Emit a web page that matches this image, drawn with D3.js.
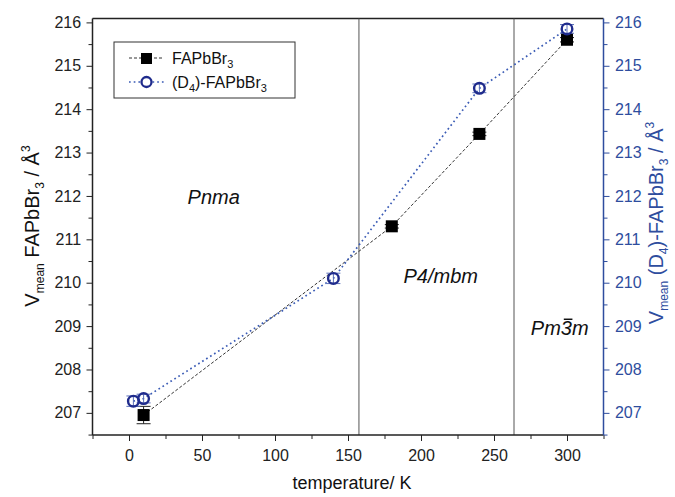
<!DOCTYPE html>
<html><head><meta charset="utf-8">
<script src="https://cdn.jsdelivr.net/npm/d3@7"></script>
<style>body{margin:0;background:#fff}svg{display:block;font-family:"Liberation Sans",Arial,sans-serif}</style>
</head><body><svg id="c" width="675" height="497"></svg>
<script>
// data
const faTemps = [10, 180, 240, 300];
const faVals  = [206.95, 211.3, 213.43, 215.6];
const faErr   = [0.2, 0.04, 0.04, 0.05];
const d4Temps = [3, 10, 140, 240, 300];
const d4Vals  = [207.27, 207.33, 210.1, 214.48, 215.85];
const d4Err   = [0.12, 0.1, 0.12, 0.1, 0.1];
const phaseBounds = [157.5, 263.7];
const phaseLabels = [{t: 58, v: 211.82, s: "Pnma"}, {t: 213.5, v: 210.0, s: "P4/mbm"}, {t: 295, v: 208.8, s: "Pm3m", bar: 2}];
const xTicks = [0, 50, 100, 150, 200, 250, 300];
const yTicks = [207, 208, 209, 210, 211, 212, 213, 214, 215, 216];

const svg = d3.select("#c");
const L = 92.5, R = 603.5, T = 18.5, B = 435;
const x = d3.scaleLinear().domain([-25, 325]).range([L, R]);
const y = d3.scaleLinear().domain([206.49, 216.09]).range([B, T]);
const blue = "#2e4d9e", navy = "#1f2b8c";

// frame top
svg.append("line").attr("x1", L).attr("x2", R).attr("y1", T).attr("y2", T).attr("stroke", "#222").attr("stroke-width", 1.5);

// phase boundaries
phaseBounds.forEach(b => svg.append("line").attr("x1", x(b)).attr("x2", x(b)).attr("y1", T).attr("y2", B).attr("stroke", "#555").attr("stroke-width", 1));

// axes
const gx = svg.append("g").attr("transform", `translate(0,${B})`)
  .call(d3.axisBottom(x).tickValues(d3.range(-25, 326, 25)).tickSize(6).tickFormat(d => xTicks.includes(d) ? d : ""));
gx.selectAll("line").filter(d => !xTicks.includes(d)).attr("y2", 4);
const gy = svg.append("g").attr("transform", `translate(${L},0)`)
  .call(d3.axisLeft(y).tickValues(d3.range(206.5, 216.01, 0.5)).tickSize(6).tickFormat(d => yTicks.includes(d) ? d : ""));
gy.selectAll(".tick line").filter(d => !yTicks.includes(d)).attr("x2", -4);
const gr = svg.append("g").attr("transform", `translate(${R},0)`)
  .call(d3.axisRight(y).tickValues(d3.range(206.5, 216.01, 0.5)).tickSize(6).tickFormat(d => yTicks.includes(d) ? d : ""));
gr.selectAll(".tick line").filter(d => !yTicks.includes(d)).attr("x2", 4);
[gx, gy, gr].forEach(g => { g.select(".domain").attr("stroke-width", 1.5); g.selectAll("text").attr("font-size", 16).attr("font-family", '"Liberation Sans",Arial,sans-serif'); });
gx.selectAll("text").attr("dy", "1.05em").attr("fill", "#222");
gy.selectAll("text").attr("fill", "#222").attr("dx", "-0.15em");
gx.selectAll("line,path").attr("stroke", "#222"); gy.selectAll("line,path").attr("stroke", "#222");
gr.selectAll("line,path").attr("stroke", blue); gr.selectAll("text").attr("fill", blue).attr("dx", "0.15em");
gx.select(".domain").attr("d", `M${L},0H${R}`);
gy.select(".domain").attr("d", `M0,${T}V${B}`);
gr.select(".domain").attr("d", `M0,${T}V${B}`);

// lines
const faData = faTemps.map((t, i) => ({t, v: faVals[i], e: faErr[i]}));
const d4Data = d4Temps.map((t, i) => ({t, v: d4Vals[i], e: d4Err[i]}));
const line = d3.line().x(d => x(d.t)).y(d => y(d.v));
svg.append("path").datum(faData).attr("d", line).attr("fill", "none").attr("stroke", "#333").attr("stroke-width", 1).attr("stroke-dasharray", "3,2");
svg.append("path").datum(d4Data).attr("d", line).attr("fill", "none").attr("stroke", "#3a5bb5").attr("stroke-width", 1.7).attr("stroke-dasharray", "1.7,3");

// error bars
function errs(data, col) {
  const g = svg.append("g").attr("stroke", col).attr("stroke-width", 1);
  data.forEach(d => {
    g.append("line").attr("x1", x(d.t)).attr("x2", x(d.t)).attr("y1", y(d.v - d.e)).attr("y2", y(d.v + d.e));
    [d.v - d.e, d.v + d.e].forEach(v => g.append("line").attr("x1", x(d.t) - 7).attr("x2", x(d.t) + 7).attr("y1", y(v)).attr("y2", y(v)));
  });
}
errs(faData, "#222");
errs(d4Data, "#5a6fb8");

// markers
svg.append("g").selectAll("rect").data(faData).join("rect")
  .attr("x", d => x(d.t) - 6).attr("y", d => y(d.v) - 6).attr("width", 12).attr("height", 12).attr("fill", "#000");
svg.append("g").selectAll("circle").data(d4Data).join("circle")
  .attr("cx", d => x(d.t)).attr("cy", d => y(d.v)).attr("r", 5.3).attr("fill", "none").attr("stroke", navy).attr("stroke-width", 2.4);

// phase labels
phaseLabels.forEach(p => {
  const t = svg.append("text").attr("x", x(p.t)).attr("y", y(p.v)).attr("text-anchor", "middle")
    .attr("font-size", 20).attr("font-style", "italic").attr("fill", "#111").text(p.s);
  if (p.bar !== undefined) {
    const e = t.node().getExtentOfChar(p.bar);
    svg.append("line").attr("x1", e.x + 3).attr("x2", e.x + e.width + 0.5)
      .attr("y1", e.y + 2.5).attr("y2", e.y + 2.5).attr("stroke", "#111").attr("stroke-width", 1.5);
  }
});

// legend
svg.append("rect").attr("x", 114).attr("y", 42).attr("width", 181).attr("height", 56).attr("fill", "#fff").attr("stroke", "#333").attr("stroke-width", 1);
svg.append("line").attr("x1", 129).attr("x2", 164).attr("y1", 58).attr("y2", 58).attr("stroke", "#333").attr("stroke-dasharray", "3,2");
svg.append("rect").attr("x", 141).attr("y", 53).attr("width", 11).attr("height", 11).attr("fill", "#000");
svg.append("line").attr("x1", 129).attr("x2", 164).attr("y1", 82).attr("y2", 82).attr("stroke", "#3a5bb5").attr("stroke-width", 1.7).attr("stroke-dasharray", "1.7,3");
svg.append("circle").attr("cx", 146.5).attr("cy", 82).attr("r", 5).attr("fill", "#fff").attr("stroke", navy).attr("stroke-width", 2.3);
const lt1 = svg.append("text").attr("x", 172).attr("y", 64).attr("font-size", 16).attr("fill", "#111");
lt1.append("tspan").text("FAPbBr");
lt1.append("tspan").attr("font-size", 11).attr("dy", 4).text("3");
const lt2 = svg.append("text").attr("x", 172).attr("y", 88).attr("font-size", 16).attr("fill", "#111");
lt2.append("tspan").text("(D");
lt2.append("tspan").attr("font-size", 11).attr("dy", 4).text("4");
lt2.append("tspan").attr("dy", -4).text(")-FAPbBr");
lt2.append("tspan").attr("font-size", 11).attr("dy", 4).text("3");

// axis titles
svg.append("text").attr("x", (L + R) / 2 + 4).attr("y", 489).attr("text-anchor", "middle").attr("font-size", 18).attr("fill", "#111").text("temperature/ K");
function ylabel(cx, cy, col, prefix) {
  const t = svg.append("text").attr("transform", `translate(${cx},${cy}) rotate(-90)`).attr("text-anchor", "middle").attr("font-size", 20).attr("fill", col);
  t.append("tspan").text("V");
  t.append("tspan").attr("font-size", 12).attr("dy", 5).text("mean");
  if (prefix) {
    t.append("tspan").attr("dy", -5).text(" (D");
    t.append("tspan").attr("font-size", 12).attr("dy", 5).text("4");
    t.append("tspan").attr("dy", -5).text(")-FAPbBr");
  } else {
    t.append("tspan").attr("dy", -5).text(" FAPbBr");
  }
  t.append("tspan").attr("font-size", 12).attr("dy", 5).text("3");
  t.append("tspan").attr("dy", -5).text(" / Å");
  t.append("tspan").attr("font-size", 12).attr("dy", -9).text("3");
}
ylabel(39, 226, "#111", false);
ylabel(663, 223, blue, true);
</script></body></html>
